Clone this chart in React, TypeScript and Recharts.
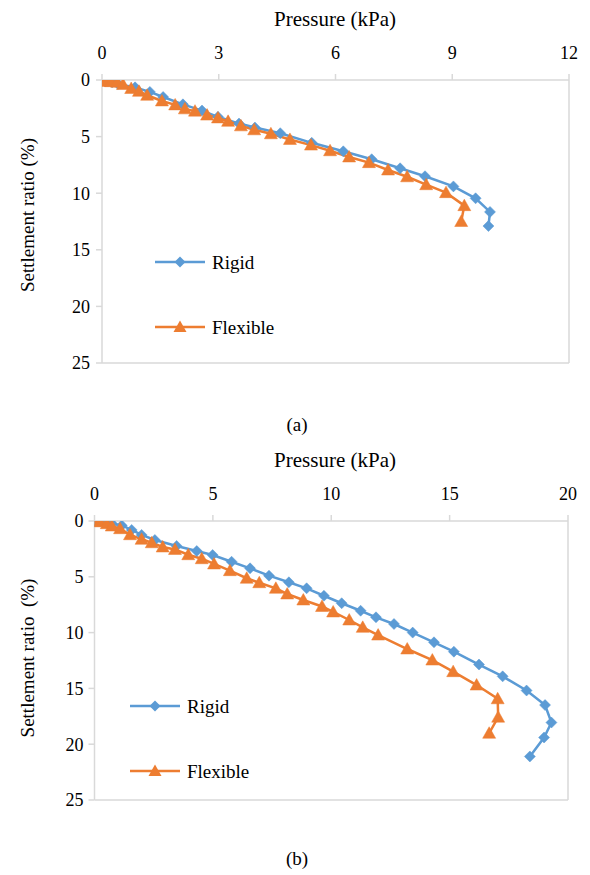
import React from "react";
import { LineChart, Line, XAxis, YAxis, ReferenceLine } from "recharts";

// ---- Chart (a) ----
const pressureTicksA = [0, 3, 6, 9, 12];
const rigidA_p = [0, 0.08, 0.26, 0.41, 0.85, 1.23, 1.57, 2.08, 2.57, 2.98, 3.52, 3.93, 4.58, 5.39, 6.2, 6.93, 7.66, 8.3, 9.03, 9.6, 9.97, 9.93];
const rigidA_s = [0, 0.1, 0.2, 0.35, 0.65, 1.05, 1.5, 2.15, 2.7, 3.25, 3.85, 4.2, 4.7, 5.55, 6.3, 7.0, 7.8, 8.5, 9.4, 10.45, 11.65, 12.9];
const flexA_p = [0, 0.1, 0.23, 0.39, 0.54, 0.75, 0.95, 1.16, 1.54, 1.88, 2.13, 2.39, 2.7, 2.98, 3.24, 3.57, 3.91, 4.34, 4.83, 5.37, 5.86, 6.35, 6.86, 7.35, 7.84, 8.33, 8.84, 9.31, 9.23];
const flexA_s = [0.1, 0.1, 0.15, 0.2, 0.4, 0.75, 1.0, 1.35, 1.85, 2.2, 2.55, 2.75, 3.1, 3.35, 3.65, 4.05, 4.4, 4.75, 5.25, 5.75, 6.25, 6.8, 7.3, 7.95, 8.55, 9.25, 9.95, 11.1, 12.5];

// ---- Chart (b) ----
const pressureTicksB = [0, 5, 10, 15, 20];
const rigidB_p = [0, 0.36, 0.73, 1.15, 1.57, 1.99, 2.55, 3.47, 4.32, 4.99, 5.79, 6.57, 7.37, 8.21, 8.96, 9.69, 10.44, 11.24, 11.89, 12.65, 13.44, 14.34, 15.18, 16.24, 17.24, 18.25, 19.03, 19.3, 18.99, 18.39];
const rigidB_s = [0, 0.05, 0.22, 0.4, 0.8, 1.25, 1.7, 2.24, 2.69, 3.05, 3.65, 4.24, 4.9, 5.49, 6.03, 6.7, 7.37, 8.04, 8.63, 9.23, 10.0, 10.87, 11.71, 12.86, 13.92, 15.19, 16.49, 18.06, 19.4, 21.1];
const flexB_p = [0, 0.23, 0.52, 0.73, 1.08, 1.5, 1.99, 2.42, 2.88, 3.4, 3.96, 4.53, 5.05, 5.72, 6.43, 6.96, 7.66, 8.14, 8.82, 9.61, 10.08, 10.76, 11.33, 11.98, 13.21, 14.27, 15.15, 16.14, 17.03, 17.05, 16.67];
const flexB_s = [0.05, 0.07, 0.24, 0.45, 0.69, 1.23, 1.64, 1.95, 2.33, 2.55, 3.02, 3.38, 3.85, 4.45, 5.13, 5.53, 6.03, 6.54, 7.08, 7.66, 8.15, 8.87, 9.53, 10.22, 11.47, 12.46, 13.5, 14.7, 15.93, 17.58, 19.02];

const settlementTicks = [0, 5, 10, 15, 20, 25];
const seriesNames = ["Rigid", "Flexible"];

const BLUE = "#5b9bd5";
const ORANGE = "#ed7d31";
const AXIS = "#d9d9d9";
const FONT = "'Liberation Serif', 'DejaVu Serif', 'Times New Roman', serif";

const zip = (p: number[], s: number[]) => p.map((x, i) => ({ x, y: s[i] }));

const Diamond = (props: any) => {
  const { cx, cy, index } = props;
  if (cx == null || cy == null) return <g key={`d${index}`} />;
  const r = 5.5;
  return (
    <path
      key={`d${index}`}
      d={`M${cx},${cy - r}L${cx + r},${cy}L${cx},${cy + r}L${cx - r},${cy}Z`}
      fill={BLUE}
      stroke={BLUE}
      strokeWidth={0.5}
    />
  );
};

const Triangle = (props: any) => {
  const { cx, cy, index } = props;
  if (cx == null || cy == null) return <g key={`t${index}`} />;
  return (
    <path
      key={`t${index}`}
      d={`M${cx},${cy - 6.5}L${cx + 6.5},${cy + 5}L${cx - 6.5},${cy + 5}Z`}
      fill={ORANGE}
      stroke={ORANGE}
      strokeWidth={0.5}
    />
  );
};

type PanelProps = {
  top: number;
  ticksX: number[];
  maxX: number;
  rigid: { x: number; y: number }[];
  flex: { x: number; y: number }[];
  margin: { top: number; right: number; bottom: number; left: number };
  yTickMargin: number;
};

const Panel = ({ top, ticksX, maxX, rigid, flex, margin, yTickMargin }: PanelProps) => (
  <div style={{ position: "absolute", left: 0, top, width: 590, height: 380 }}>
    <LineChart width={590} height={380} margin={margin}>
      <XAxis
        type="number"
        dataKey="x"
        orientation="top"
        domain={[0, maxX]}
        ticks={ticksX}
        height={30}
        stroke={AXIS}
        strokeWidth={1.5}
        tickSize={6}
        tickMargin={15}
        tick={{ fill: "#000", fontSize: 18, fontFamily: FONT }}
        allowDataOverflow
      />
      <YAxis
        type="number"
        dataKey="y"
        domain={[0, 25]}
        ticks={settlementTicks}
        reversed
        width={40}
        stroke={AXIS}
        strokeWidth={1.5}
        tickSize={6}
        tickMargin={yTickMargin}
        tick={{ fill: "#000", fontSize: 18, fontFamily: FONT }}
        allowDataOverflow
      />
      <ReferenceLine y={25} stroke={AXIS} strokeWidth={1.5} />
      <ReferenceLine x={maxX} stroke={AXIS} strokeWidth={1.5} />
      <Line
        data={rigid}
        dataKey="y"
        name={seriesNames[0]}
        type="linear"
        stroke={BLUE}
        strokeWidth={2.5}
        dot={Diamond}
        activeDot={false}
        isAnimationActive={false}
      />
      <Line
        data={flex}
        dataKey="y"
        name={seriesNames[1]}
        type="linear"
        stroke={ORANGE}
        strokeWidth={2.5}
        dot={Triangle}
        activeDot={false}
        isAnimationActive={false}
      />
    </LineChart>
  </div>
);

const LegendBox = ({ left, top, gap }: { left: number; top: number; gap: number }) => (
  <div style={{ position: "absolute", left, top, width: 160, height: gap + 30 }}>
    <svg width={160} height={gap + 30} style={{ position: "absolute", left: 0, top: 0 }}>
      <line x1={0} y1={15} x2={50} y2={15} stroke={BLUE} strokeWidth={2.5} />
      <path d="M25,9.5L30.5,15L25,20.5L19.5,15Z" fill={BLUE} />
      <line x1={0} y1={15 + gap} x2={50} y2={15 + gap} stroke={ORANGE} strokeWidth={2.5} />
      <path d={`M25,${8.5 + gap}L31.5,${20 + gap}L18.5,${20 + gap}Z`} fill={ORANGE} />
      <text x={57} y={15} dominantBaseline="central" fontFamily={FONT} fontSize={19} fill="#000">
        {seriesNames[0]}
      </text>
      <text x={57} y={15 + gap} dominantBaseline="central" fontFamily={FONT} fontSize={19} fill="#000">
        {seriesNames[1]}
      </text>
    </svg>
  </div>
);

const textStyle: React.CSSProperties = {
  position: "absolute",
  fontFamily: FONT,
  color: "#000",
  whiteSpace: "nowrap",
  lineHeight: 1,
};

const Centered = ({ x, y, size, children, rotate }: any) => (
  <div
    style={{
      ...textStyle,
      left: x,
      top: y,
      fontSize: size,
      transform: `translate(-50%, -50%)${rotate ? ` rotate(${rotate}deg)` : ""}`,
    }}
  >
    {children}
  </div>
);

export default function App() {
  return (
    <div style={{ position: "absolute", left: 0, top: 0, width: 590, height: 875, background: "#fff", overflow: "hidden", fontFamily: FONT }}>
      <Panel
        top={0}
        ticksX={pressureTicksA}
        maxX={12}
        rigid={zip(rigidA_p, rigidA_s)}
        flex={zip(flexA_p, flexA_s)}
        margin={{ top: 50, right: 21, bottom: 17, left: 62 }}
        yTickMargin={6}
      />
      <Panel
        top={440}
        ticksX={pressureTicksB}
        maxX={20}
        rigid={zip(rigidB_p, rigidB_s)}
        flex={zip(flexB_p, flexB_s)}
        margin={{ top: 51, right: 22, bottom: 20, left: 54.5 }}
        yTickMargin={5}
      />
      <Centered x={335} y={19} size={21}>Pressure (kPa)</Centered>
      <Centered x={335} y={460} size={21}>Pressure (kPa)</Centered>
      <Centered x={27} y={215} size={19} rotate={-90}>Settlement ratio (%)</Centered>
      <Centered x={27} y={658} size={19} rotate={-90}>Settlement ratio&nbsp; (%)</Centered>
      <LegendBox left={155} top={247} gap={65} />
      <LegendBox left={130} top={691} gap={65} />
      <Centered x={297} y={424} size={19}>(a)</Centered>
      <Centered x={297} y={858} size={19}>(b)</Centered>
    </div>
  );
}
